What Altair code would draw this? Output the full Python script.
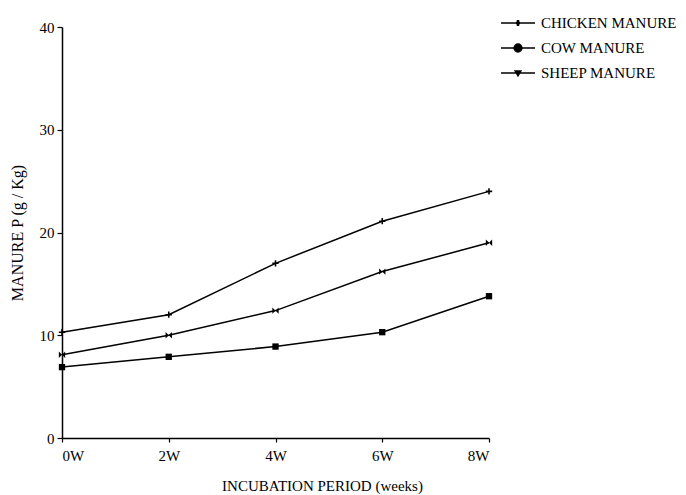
import altair as alt
import pandas as pd

weeks = [0, 2, 4, 6, 8]
chicken = [10.3, 12.0, 17.0, 21.1, 24.0]
cow = [6.9, 7.9, 8.9, 10.3, 13.8]
sheep = [8.1, 10.0, 12.4, 16.2, 19.0]
series_names = ["CHICKEN MANURE", "COW MANURE", "SHEEP MANURE"]

rows = []
for name, vals in zip(series_names, [chicken, cow, sheep]):
    for w, v in zip(weeks, vals):
        rows.append({"week": w, "value": v, "series": name, "legend_series": name})
df = pd.DataFrame(rows)

FONT = "Liberation Serif"

# marker-only symbols for the plot
marker_paths = [
    "M-0.25,-1H0.25V-0.25H1V0.25H0.25V1H-0.25V0.25H-1V-0.25H-0.25Z",
    "square",
    "M-1,-1L1,1V-1L-1,1Z",
]
# line + marker symbols for the legend (stroke-only, markers filled by nested strokes)
legend_paths = [
    "M-1.7,0H1.7M0.06,-0.3V0.3M-0.06,-0.3V0.3M-0.2,0.06H0.2M-0.2,-0.06H0.2",
    "M-1.7,0H1.7"
    "M-0.4,0A0.4,0.4 0 1,0 0.4,0A0.4,0.4 0 1,0 -0.4,0Z"
    "M-0.28,0A0.28,0.28 0 1,0 0.28,0A0.28,0.28 0 1,0 -0.28,0Z"
    "M-0.16,0A0.16,0.16 0 1,0 0.16,0A0.16,0.16 0 1,0 -0.16,0Z"
    "M-0.05,0A0.05,0.05 0 1,0 0.05,0A0.05,0.05 0 1,0 -0.05,0Z",
    "M-1.7,0H1.7M-0.3,-0.2H0.3L0,0.3ZM-0.16,-0.12H0.16L0,0.16Z",
]

x_enc = alt.X(
    "week:Q",
    scale=alt.Scale(domain=[0, 8], nice=False, zero=False),
    axis=alt.Axis(
        values=weeks,
        labelExpr="datum.value + 'W'",
        title="INCUBATION PERIOD (weeks)",
        grid=False,
        tickSize=4,
        labelPadding=6,
        titleX=260,
        titlePadding=15,
        titleFontSize=15,
    ),
)
y_enc = alt.Y(
    "value:Q",
    scale=alt.Scale(domain=[0, 40], nice=False),
    axis=alt.Axis(
        values=[0, 10, 20, 30, 40],
        title="MANURE  P (g / Kg)",
        grid=False,
        tickSize=5,
        labelPadding=3,
        titlePadding=14,
        titleFontSize=16,
    ),
)

lines = alt.Chart(df).mark_line(color="black", strokeWidth=1.5).encode(
    x=x_enc, y=y_enc, detail="series:N"
)

points = alt.Chart(df).mark_point(
    filled=True, color="black", size=40, opacity=1
).encode(
    x=x_enc,
    y=y_enc,
    shape=alt.Shape(
        "series:N",
        scale=alt.Scale(domain=series_names, range=marker_paths),
        legend=None,
    ),
)

legend_layer = alt.Chart(df).transform_filter("false").mark_point(
    filled=False, color="black", strokeWidth=1.3, size=400, opacity=1
).encode(
    x=x_enc,
    y=y_enc,
    shape=alt.Shape(
        "legend_series:N",
        scale=alt.Scale(domain=series_names, range=legend_paths),
        legend=alt.Legend(
            title=None,
            orient="none",
            legendX=445,
            legendY=-15,
            padding=0,
            symbolSize=400,
            symbolStrokeColor="black",
            symbolStrokeWidth=1.3,
            symbolOpacity=1,
            labelOffset=12,
            rowPadding=6,
            labelFont=FONT,
            labelFontSize=15,
            labelColor="black",
        ),
    ),
)

chart = (
    alt.layer(lines, points, legend_layer)
    .resolve_scale(shape="independent")
    .properties(
        width=427,
        height=411,
        padding={"left": 54, "top": 19, "right": 189, "bottom": 56},
        autosize=alt.AutoSizeParams(type="none"),
        background="white",
    )
    .configure_view(stroke=None)
    .configure_axis(
        domainColor="black",
        domainWidth=1.5,
        tickColor="black",
        tickWidth=1.2,
        labelColor="black",
        titleColor="black",
        labelFont=FONT,
        titleFont=FONT,
        labelFontSize=15,
        titleFontWeight="normal",
    )
)

chart.save("out.html", embed_options={"renderer": "svg", "actions": False})
